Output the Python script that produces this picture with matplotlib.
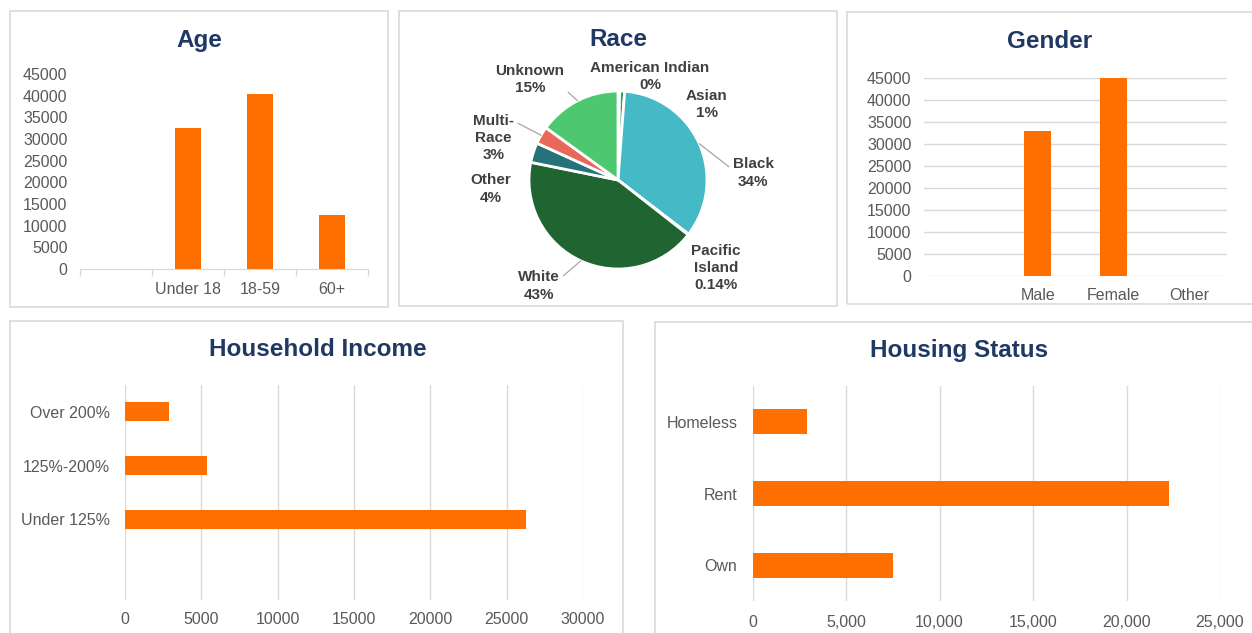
import numpy as np
import matplotlib
matplotlib.use("Agg")
import matplotlib.pyplot as plt
from matplotlib.patches import Rectangle
from matplotlib.ticker import FuncFormatter

plt.rcParams['font.family'] = ['Liberation Sans', 'DejaVu Sans']

# ---- data ----
age_cats = ['', 'Under 18', '18-59', '60+']
age_vals = [0, 32600, 40400, 12500]

gender_cats = ['', 'Male', 'Female', 'Other']
gender_vals = [0, 33000, 45000, 60]

race_names = ['American Indian', 'Asian', 'Black', 'Pacific\nIsland', 'White',
              'Other', 'Multi-\nRace', 'Unknown']
race_share = [0.3, 0.9, 34.2, 0.14, 42.6, 3.6, 3.2, 15.0]
race_pct = ['0%', '1%', '34%', '0.14%', '43%', '4%', '3%', '15%']
race_colors = ['#5FB878', '#2E9E4F', '#45BAC6', '#2B8A8F', '#206431',
               '#237378', '#E8685A', '#4DC870']

income_cats = ['', 'Under 125%', '125%-200%', 'Over 200%']
income_vals = [0, 26250, 5400, 2850]

housing_cats = ['Own', 'Rent', 'Homeless']
housing_vals = [7530, 22280, 2900]

# ---- style ----
W, H = 1252, 633
ORANGE = '#FF6F00'
NAVY = '#1F3864'
TICK = '#595959'
GRID = '#D9D9D9'

fig = plt.figure(figsize=(W / 100, H / 100), dpi=100)
fig.patch.set_facecolor('white')


def rect(x0, y0, x1, y1):
    # pixel box (top-left origin) -> figure fraction [l, b, w, h]
    return [x0 / W, (H - y1) / H, (x1 - x0) / W, (y1 - y0) / H]


def frame(x0, y0, x1, y1):
    l, b, w, h = rect(x0, y0, x1, y1)
    fig.patches.append(Rectangle((l, b), w, h, transform=fig.transFigure,
                                 fill=False, edgecolor='#D9D9D9', lw=1.2))


def title(x, y, s):
    fig.text(x / W, 1 - y / H, s, ha='center', va='center', fontsize=17.5,
             fontweight='bold', color=NAVY)


frame(10, 11, 388, 307)
frame(399, 11, 837, 306)
frame(847, 12, 1258, 304)
frame(10, 321, 623, 640)
frame(655, 322, 1258, 640)

title(199, 40, 'Age')
title(618, 40, 'Race')
title(1050, 41, 'Gender')
title(318, 349, 'Household Income')
title(959, 350, 'Housing Status')


def clean(ax):
    for s in ax.spines.values():
        s.set_visible(False)
    ax.tick_params(colors=TICK, labelsize=11.5, length=0)


# ---- Age ----
ax = fig.add_axes(rect(80, 74, 368, 269))
x = np.arange(len(age_cats))
ax.bar(x, age_vals, width=0.35, color=ORANGE)
ax.set_xlim(-0.5, len(age_cats) - 0.5)
ax.set_ylim(0, 45000)
ax.set_yticks(range(0, 45001, 5000))
clean(ax)
ax.tick_params(axis='y', pad=9)
ax.set_xticks(x)
ax.set_xticklabels(age_cats)
ax.tick_params(axis='x', pad=9)
ax.set_xticks(np.arange(-0.5, len(age_cats)), minor=True)
ax.tick_params(axis='x', which='minor', length=5, color=GRID, width=1)
ax.spines['bottom'].set_visible(True)
ax.spines['bottom'].set_color(GRID)

# ---- Gender ----
ax = fig.add_axes(rect(924, 78, 1227, 276))
x = np.arange(len(gender_cats))
ax.bar(x, gender_vals, width=0.35, color=ORANGE, zorder=3)
ax.set_xlim(-0.5, len(gender_cats) - 0.5)
ax.set_ylim(0, 45000)
ax.set_yticks(range(0, 45001, 5000))
ax.yaxis.grid(True, color=GRID, lw=1)
ax.set_axisbelow(True)
clean(ax)
ax.tick_params(axis='y', pad=9)
ax.set_xticks(x)
ax.set_xticklabels(gender_cats)
ax.tick_params(axis='x', pad=9)

# ---- Race pie ----
R = 89
S = 1.8
ax = fig.add_axes(rect(618 - R * S, 180 - R * S, 618 + R * S, 180 + R * S))
wedges, _ = ax.pie(race_share, colors=race_colors, startangle=90, counterclock=False,
                   radius=1, wedgeprops=dict(edgecolor='white', linewidth=2))
ax.set_xlim(-S, S)
ax.set_ylim(-S, S)
ax.set_aspect('equal')
ax.axis('off')

# label centres (in radius units) and where the leader line leaves the text
label_pos = [(0.36, 1.16), (1.00, 0.85), (1.52, 0.08), (1.10, -0.99),
             (-0.89, -1.19), (-1.43, -0.10), (-1.40, 0.47), (-0.99, 1.13)]
leader = [None, None, (0.0, 0.6), None, (1.0, 0.72), None, (1.0, 0.85), (0.85, 0.5)]
for w, name, pct, pos, rel in zip(wedges, race_names, race_pct, label_pos, leader):
    txt = f'{name}\n{pct}'
    kw = dict(ha='center', va='center', fontsize=11, fontweight='bold',
              color='#404040', linespacing=1.3)
    if rel is None:
        ax.text(pos[0], pos[1], txt, **kw)
    else:
        mid = np.deg2rad((w.theta1 + w.theta2) / 2)
        xy = (np.cos(mid), np.sin(mid))
        ax.annotate(txt, xy=xy, xytext=pos,
                    arrowprops=dict(arrowstyle='-', color='#A6A6A6', lw=0.9,
                                    shrinkA=1, shrinkB=0, relpos=rel), **kw)

# ---- Household Income ----
ax = fig.add_axes(rect(125, 385, 583, 600))
y = np.arange(len(income_cats))
ax.barh(y, income_vals, height=0.35, color=ORANGE, zorder=3)
ax.set_ylim(-0.5, len(income_cats) - 0.5)
ax.set_xlim(0, 30000)
ax.set_xticks(range(0, 30001, 5000))
ax.xaxis.grid(True, color=GRID, lw=1)
ax.set_axisbelow(True)
clean(ax)
ax.set_yticks(y)
ax.set_yticklabels(income_cats)
ax.tick_params(axis='y', pad=11)
ax.tick_params(axis='x', pad=9)

# ---- Housing Status ----
ax = fig.add_axes(rect(752.7, 386, 1220, 601))
y = np.arange(len(housing_cats))
ax.barh(y, housing_vals, height=0.35, color=ORANGE, zorder=3)
ax.set_ylim(-0.5, len(housing_cats) - 0.5)
ax.set_xlim(0, 25000)
ax.set_xticks(range(0, 25001, 5000))
ax.xaxis.set_major_formatter(FuncFormatter(lambda v, p: f'{int(v):,}'))
ax.xaxis.grid(True, color=GRID, lw=1)
ax.set_axisbelow(True)
clean(ax)
ax.set_yticks(y)
ax.set_yticklabels(housing_cats)
ax.tick_params(axis='y', pad=11)
ax.tick_params(axis='x', pad=10)

fig.savefig('out.png', dpi=100, facecolor='white')
